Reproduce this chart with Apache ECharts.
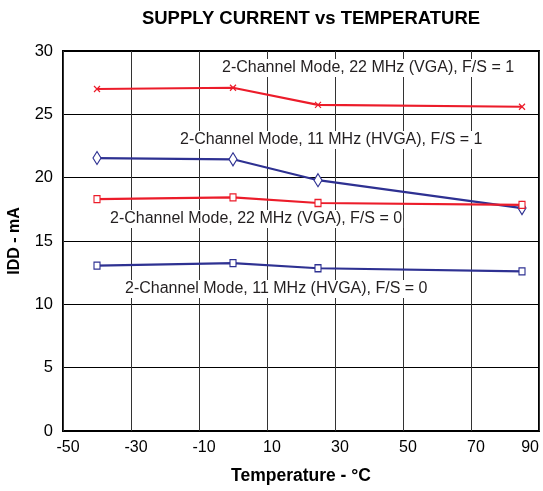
<!DOCTYPE html>
<html><head><meta charset="utf-8">
<script src="https://cdn.jsdelivr.net/npm/echarts@6/dist/echarts.min.js"></script>
<style>html,body{margin:0;padding:0;background:#fff}#c{width:543px;height:491px}</style>
</head><body><div id="c"></div>
<script>
const temps = [-40, 0, 25, 85];
const vga22_fs1 = [27.0, 27.1, 25.75, 25.6];
const hvga11_fs1 = [21.55, 21.45, 19.8, 17.6];
const vga22_fs0 = [18.3, 18.45, 18.0, 17.85];
const hvga11_fs0 = [13.05, 13.25, 12.85, 12.6];
const xTicks = [-50, -30, -10, 10, 30, 50, 70, 90];
const yTicks = [0, 5, 10, 15, 20, 25, 30];
const labels = [
  "2-Channel Mode, 22 MHz (VGA), F/S = 1",
  "2-Channel Mode, 11 MHz (HVGA), F/S = 1",
  "2-Channel Mode, 22 MHz (VGA), F/S = 0",
  "2-Channel Mode, 11 MHz (HVGA), F/S = 0"
];
const RED = '#ec1c2a', BLUE = '#2e3192';
const xSym = 'path://M0,0L10,10M10,0L0,10';
function pts(v){ return temps.map((t,i)=>[t,v[i]]); }
function ser(v, color, sym, size){
  return {type:'line', data:pts(v), z:3, symbol:sym, symbolSize:size, showSymbol:true,
    lineStyle:{color:color,width:2.2}, itemStyle:{color:'#fff',borderColor:color,borderWidth:1.2},
    emphasis:{disabled:true}, animation:false};
}
const chart = echarts.init(document.getElementById('c'));
const font = 'Liberation Sans, Arial, sans-serif';
const tstyle = (t,l,tp)=>({type:'text', left:l, top:tp, z:1, style:{text:t, fill:'#231f20', font:'16px '+font, backgroundColor:'#fff', padding:[1,1]}});
chart.setOption({
  animation:false,
  title:{text:'SUPPLY CURRENT vs TEMPERATURE', left:306, top:4, textAlign:'center',
    textStyle:{fontFamily:font, fontWeight:'bold', fontSize:18.5, color:'#000'}},
  grid:{left:63, right:4, top:51, bottom:60, containLabel:false, outerBoundsMode:'none',
    show:true, borderColor:'#000', borderWidth:2, backgroundColor:'transparent'},
  xAxis:{type:'value', min:-50, max:90, interval:20,
    name:'Temperature - °C', nameLocation:'middle', nameGap:36,
    nameTextStyle:{fontFamily:font, fontWeight:'bold', fontSize:17.5, color:'#000'},
    axisLine:{show:false}, axisTick:{show:false},
    axisLabel:{fontFamily:font, fontSize:16, color:'#000', margin:9, padding:[0,0,0,10], alignMaxLabel:'right',
      formatter:v=>xTicks.includes(v)?String(v):''},
    splitLine:{show:true, lineStyle:{color:'#333', width:1}}},
  yAxis:{type:'value', min:0, max:30, interval:5,
    name:'IDD - mA', nameLocation:'middle', nameGap:40,
    nameTextStyle:{fontFamily:font, fontWeight:'bold', fontSize:16, color:'#000'},
    axisLine:{show:false}, axisTick:{show:false},
    axisLabel:{fontFamily:font, fontSize:16.5, color:'#000', margin:10, formatter:v=>yTicks.includes(v)?String(v):''},
    splitLine:{show:true, lineStyle:{color:'#000', width:1}}},
  graphic:[
    tstyle(labels[0], 221, 59),
    tstyle(labels[1], 179, 131),
    tstyle(labels[2], 109, 210),
    tstyle(labels[3], 124, 280)
  ],
  series:[
    ser(vga22_fs1, RED, xSym, 6),
    ser(hvga11_fs1, BLUE, 'diamond', [8,13]),
    ser(vga22_fs0, RED, 'rect', [6,7]),
    ser(hvga11_fs0, BLUE, 'rect', [6,7])
  ]
});
</script></body></html>
